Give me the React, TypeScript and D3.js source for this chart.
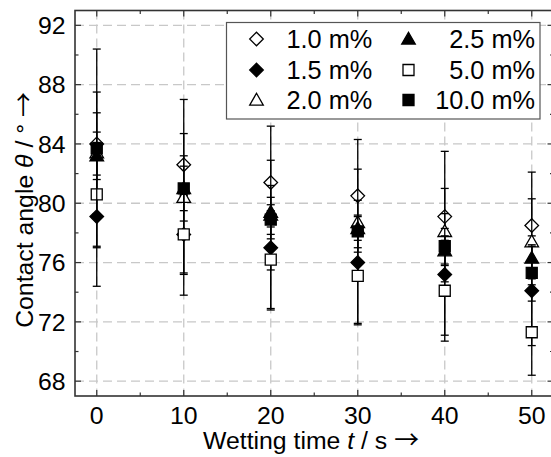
import React from "react";
import * as d3 from "d3";

// wetting time (s)
const times = [0, 10, 20, 30, 40, 50];

// series: mass fraction labels and marker styles
const labels = ["1.0 m%", "1.5 m%", "2.0 m%", "2.5 m%", "5.0 m%", "10.0 m%"];
const shapes = ["diamond", "diamond", "triangle", "triangle", "square", "square"];
const filled = [false, true, false, true, false, true];

// mean contact angle (deg)
const mean10 = [84.0, 82.6, 81.4, 80.5, 79.1, 78.5];
const mean15 = [79.1, 77.9, 77.0, 76.0, 75.2, 74.1];
const mean20 = [83.4, 80.4, 79.2, 78.7, 78.1, 77.4];
const mean25 = [83.2, 81.0, 79.4, 78.3, 76.8, 76.3];
const mean50 = [80.6, 77.9, 76.2, 75.1, 74.1, 71.3];
const mean100 = [83.7, 81.0, 78.9, 78.1, 77.1, 75.3];

// standard deviation (deg)
const err10 = [2.1, 2.1, 3.8, 3.8, 4.4, 3.6];
const err15 = [4.7, 2.6, 4.2, 4.2, 4.1, 3.7];
const err20 = [4.1, 6.6, 3.7, 3.6, 2.9, 2.9];
const err25 = [1.6, 1.5, 1.0, 0.8, 1.0, 0.8];
const err50 = [3.5, 2.7, 3.3, 3.2, 3.4, 2.9];
const err100 = [6.7, 2.2, 1.0, 1.1, 1.2, 1.9];

const means = [mean10, mean15, mean20, mean25, mean50, mean100];
const errs = [err10, err15, err20, err25, err50, err100];

const xTicks = [0, 10, 20, 30, 40, 50];
const xMinor = [5, 15, 25, 35, 45];
const yTicks = [68, 72, 76, 80, 84, 88, 92];
const yMinor = [70, 74, 78, 82, 86, 90];

const W = 551;
const H = 457;
const left = 75;
const right = 553.5;
const top = 10.5;
const bottom = 396;
const font = "'Liberation Sans', Arial, sans-serif";
const arrowFont = "'Noto Sans CJK SC', 'DejaVu Sans', sans-serif";
const fs = 24.8;

function markerPath(shape: string): string {
  if (shape === "diamond") {
    const r = 6.8;
    return `M0,${-r}L${r},0L0,${r}L${-r},0Z`;
  }
  if (shape === "triangle") {
    const h = 6.8;
    return `M0,${-h}L${h},${h * 0.75}L${-h},${h * 0.75}Z`;
  }
  const s = 5.5;
  return `M${-s},${-s}H${s}V${s}H${-s}Z`;
}

function Marker({ i, x, y }: { i: number; x: number; y: number }) {
  return (
    <path
      d={markerPath(shapes[i])}
      transform={`translate(${x},${y})`}
      fill={filled[i] ? "#000" : "#fff"}
      stroke="#000"
      strokeWidth={1.3}
    />
  );
}

export default function App() {
  const x = d3.scaleLinear().domain([-2.5, 52.5]).range([left, right]);
  const y = d3.scaleLinear().domain([67, 93]).range([bottom, top]);

  // legend placement
  const legRows = [39, 70, 100];
  const legend = labels.map((l, i) => ({
    label: l,
    col: i < 3 ? 0 : 1,
    row: i % 3,
  }));

  return (
    <svg
      width={W}
      height={H}
      style={{ position: "absolute", left: 0, top: 0, background: "#fff" }}
      fontFamily={font}
    >
      <rect width={W} height={H} fill="#fff" />

      {/* grid */}
      <g stroke="#c8c8c8" strokeWidth={1.3} strokeDasharray="9,5">
        {xTicks.map((t) => (
          <line key={"gx" + t} x1={x(t)} x2={x(t)} y1={top} y2={bottom} />
        ))}
        {yTicks.map((t) => (
          <line key={"gy" + t} x1={left} x2={right} y1={y(t)} y2={y(t)} />
        ))}
      </g>

      {/* error bars and markers, series by series */}
      {means.map((m, i) => (
        <g key={"s" + i}>
          <g stroke="#000" strokeWidth={1.3}>
            {times.map((t, j) => {
              const cx = x(t);
              const hi = y(m[j] + errs[i][j]);
              const lo = y(m[j] - errs[i][j]);
              return (
                <g key={j}>
                  <line x1={cx} x2={cx} y1={hi} y2={lo} />
                  <line x1={cx - 4} x2={cx + 4} y1={hi} y2={hi} />
                  <line x1={cx - 4} x2={cx + 4} y1={lo} y2={lo} />
                </g>
              );
            })}
          </g>
          {times.map((t, j) => (
            <Marker key={j} i={i} x={x(t)} y={y(m[j])} />
          ))}
        </g>
      ))}

      {/* legend */}
      <rect x={226.5} y={22.5} width={313.5} height={96.5} fill="#fff" stroke="#555" strokeWidth={1.2} />
      {legend.map((d, i) => {
        const my = legRows[d.row];
        const mx = d.col === 0 ? 256.5 : 408.5;
        return (
          <g key={"l" + i}>
            <Marker i={i} x={mx} y={my} />
            <text
              x={d.col === 0 ? 286.5 : 535}
              y={my + 9}
              fontSize={25.3}
              textAnchor={d.col === 0 ? "start" : "end"}
              fill="#000"
            >
              {d.label}
            </text>
          </g>
        );
      })}

      {/* ticks (inward on all sides) */}
      <g stroke="#333" strokeWidth={1.2}>
        {xTicks.map((t) => (
          <g key={"tx" + t}>
            <line x1={x(t)} x2={x(t)} y1={bottom} y2={bottom - 6} />
            <line x1={x(t)} x2={x(t)} y1={top} y2={top + 6} />
          </g>
        ))}
        {xMinor.map((t) => (
          <g key={"mx" + t}>
            <line x1={x(t)} x2={x(t)} y1={bottom} y2={bottom - 3.5} />
            <line x1={x(t)} x2={x(t)} y1={top} y2={top + 3.5} />
          </g>
        ))}
        {yTicks.map((t) => (
          <g key={"ty" + t}>
            <line x1={left} x2={left + 6} y1={y(t)} y2={y(t)} />
            <line x1={right} x2={right - 6} y1={y(t)} y2={y(t)} />
          </g>
        ))}
        {yMinor.map((t) => (
          <g key={"my" + t}>
            <line x1={left} x2={left + 3.5} y1={y(t)} y2={y(t)} />
            <line x1={right} x2={right - 3.5} y1={y(t)} y2={y(t)} />
          </g>
        ))}
      </g>

      {/* frame */}
      <rect x={left} y={top} width={right - left} height={bottom - top} fill="none" stroke="#333" strokeWidth={1.6} />

      {/* tick labels */}
      <g fontSize={fs} fill="#000">
        {xTicks.map((t) => (
          <text key={"lx" + t} x={x(t)} y={423.5} textAnchor="middle">
            {t}
          </text>
        ))}
        {yTicks.map((t) => (
          <text key={"ly" + t} x={65.5} y={y(t) + 8.8} textAnchor="end">
            {t}
          </text>
        ))}
      </g>

      {/* axis titles */}
      <text x={311} y={448.5} fontSize={fs} textAnchor="middle" fill="#000">
        Wetting time <tspan fontStyle="italic">t</tspan> / s{" "}
        <tspan fontFamily={arrowFont}>→</tspan>
      </text>
      <text
        transform="translate(33,210) rotate(-90)"
        fontSize={fs}
        textAnchor="middle"
        fill="#000"
      >
        Contact angle <tspan fontStyle="italic">θ</tspan> / °{" "}
        <tspan fontFamily={arrowFont}>→</tspan>
      </text>
    </svg>
  );
}
